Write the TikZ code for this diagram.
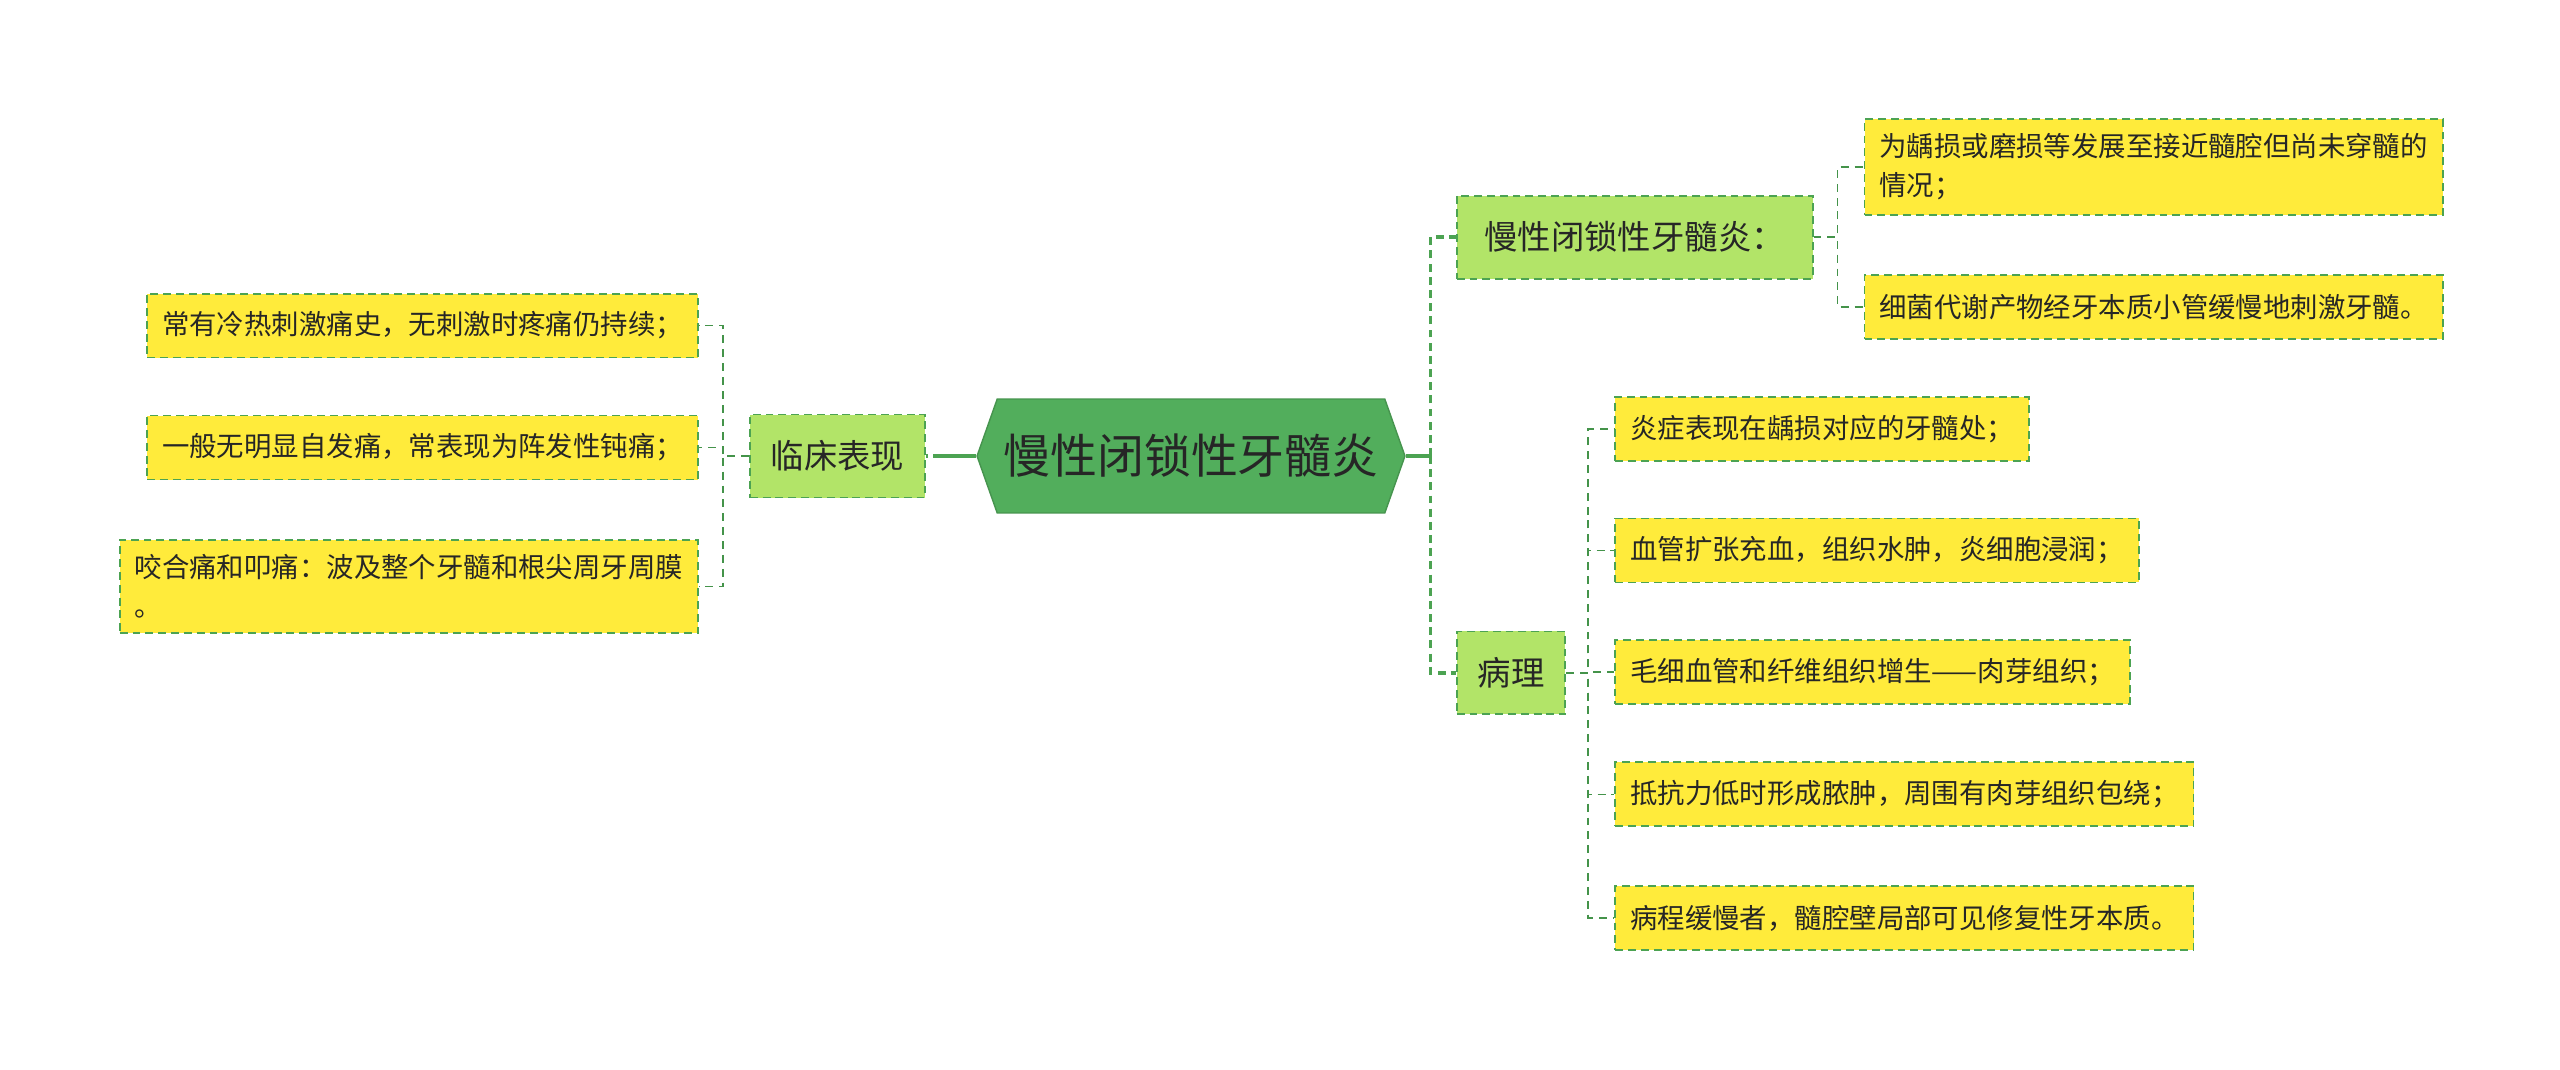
\documentclass[tikz,border=0pt]{standalone}
\usepackage{fontspec}
\setmainfont{Noto Sans CJK SC}
\usepackage{tikz}
\usetikzlibrary{shapes.symbols, positioning}
\definecolor{leafyellow}{RGB}{255, 235, 59}
\definecolor{linegreen}{RGB}{76, 163, 82}
\definecolor{midgreen}{RGB}{178, 228, 104}
\definecolor{rootgreen}{RGB}{82, 174, 92}
\definecolor{inkgray}{RGB}{38, 38, 38}

\begin{document}
\begin{tikzpicture}[
        x=0.02cm, y=0.02cm,
        leaf/.style={draw=linegreen, line width=1.1pt, dash pattern=on 4.5pt off 2.8pt,
                     fill=leafyellow, text=inkgray, font=\fontsize{15.6pt}{22.2pt}\selectfont,
                     align=left, inner xsep=0.3cm, inner ysep=0.3cm, minimum height=1.28cm},
        topic/.style={draw=linegreen, line width=1.1pt, dash pattern=on 4.5pt off 2.8pt,
                      fill=midgreen, text=inkgray, font=\fontsize{19pt}{22pt}\selectfont,
                      inner xsep=0.42cm, minimum height=1.66cm},
        root/.style={signal, signal to=west and east, signal pointer angle=141,
                     draw=rootgreen!85!black, line width=0.8pt, fill=rootgreen, text=inkgray,
                     font=\fontsize{26.7pt}{30pt}\selectfont,
                     minimum width=8.56cm, minimum height=2.28cm},
        thicklink/.style={draw=linegreen, line width=2pt},
        dashlink/.style={thicklink, dash pattern=on 4.5pt off 3pt},
        thinlink/.style={draw=linegreen!90!black, line width=1.05pt, dash pattern=on 4.5pt off 3.4pt}
      ]
        \useasboundingbox (0,0) rectangle (2560,-1069);

        \node[root] (root) at (1191,-456) {慢性闭锁性牙髓炎};

        % left branch
        \node[topic, left=1cm of root] (clinic) {临床表现};
        \node[leaf, left=1cm of clinic, yshift=2.61cm] (cl1) {常有冷热刺激痛史，无刺激时疼痛仍持续；};
        \node[leaf, left=1cm of clinic, yshift=0.17cm] (cl2) {一般无明显自发痛，常表现为阵发性钝痛；};
        \node[leaf, left=1cm of clinic, yshift=-2.61cm] (cl3) {咬合痛和叩痛：波及整个牙髓和根尖周牙周膜\\。};

        % right branch
        \node[topic, right=1cm of root, yshift=4.38cm, minimum width=7.12cm] (chronic) {慢性闭锁性牙髓炎：};
        \node[leaf, right=1cm of chronic, yshift=1.4cm] (ch1) {为龋损或磨损等发展至接近髓腔但尚未穿髓的\\情况；};
        \node[leaf, right=1cm of chronic, yshift=-1.4cm] (ch2) {细菌代谢产物经牙本质小管缓慢地刺激牙髓。};

        \node[topic, right=1cm of root, yshift=-4.34cm] (patho) {病理};
        \node[leaf, right=0.96cm of patho, yshift=4.88cm] (pa1) {炎症表现在龋损对应的牙髓处；};
        \node[leaf, right=0.96cm of patho, yshift=2.45cm] (pa2) {血管扩张充血，组织水肿，炎细胞浸润；};
        \node[leaf, right=0.96cm of patho, yshift=0.02cm] (pa3) {毛细血管和纤维组织增生——肉芽组织；};
        \node[leaf, right=0.96cm of patho, yshift=-2.43cm] (pa4) {抵抗力低时形成脓肿，周围有肉芽组织包绕；};
        \node[leaf, right=0.96cm of patho, yshift=-4.9cm] (pa5) {病程缓慢者，髓腔壁局部可见修复性牙本质。};

        % connectors
        \draw[thicklink] (root.west) -- ++(-0.7cm,0) coordinate (lj);
        \draw[dashlink] (lj) -- (clinic.east);
        \draw[thicklink] (root.east) -- ++(0.5cm,0) coordinate (rj);
        \draw[dashlink] (rj) |- (chronic.west);
        \draw[dashlink] (rj) |- (patho.west);

        \draw[thinlink] (clinic.west) -- ++(-0.52cm,0) |- (cl1.east);
        \draw[thinlink] (clinic.west) -- ++(-0.52cm,0) |- (cl2.east);
        \draw[thinlink] (clinic.west) -- ++(-0.52cm,0) |- (cl3.east);

        \draw[thinlink] (chronic.east) -- ++(0.48cm,0) |- (ch1.west);
        \draw[thinlink] (chronic.east) -- ++(0.48cm,0) |- (ch2.west);

        \draw[thinlink] (patho.east) -- ++(0.44cm,0) |- (pa1.west);
        \draw[thinlink] (patho.east) -- ++(0.44cm,0) |- (pa2.west);
        \draw[thinlink] (patho.east) -- ++(0.44cm,0) |- (pa3.west);
        \draw[thinlink] (patho.east) -- ++(0.44cm,0) |- (pa4.west);
        \draw[thinlink] (patho.east) -- ++(0.44cm,0) |- (pa5.west);
      \end{tikzpicture}
\end{document}
